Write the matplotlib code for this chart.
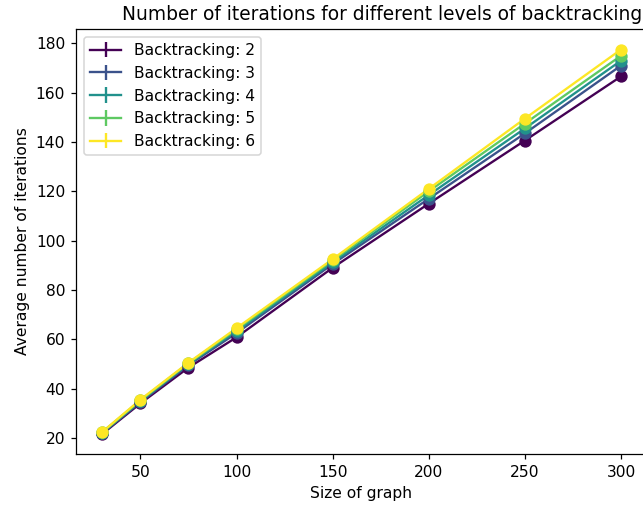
import numpy as np
import matplotlib
matplotlib.use("Agg")
import matplotlib.pyplot as plt


graph_sizes = [30, 50, 75, 100, 150, 200, 250, 300]
levels = [2, 3, 4, 5, 6]

iters_bt2 = [21.5, 34.0, 48.5, 60.8, 89.0, 115.0, 140.6, 166.6]
iters_bt3 = [21.8, 34.5, 49.5, 62.5, 90.5, 117.0, 143.5, 171.0]
iters_bt4 = [22.0, 35.0, 50.0, 63.3, 91.2, 118.5, 145.5, 173.0]
iters_bt5 = [22.2, 35.2, 50.3, 64.0, 92.0, 120.0, 147.5, 175.0]
iters_bt6 = [22.3, 35.5, 50.5, 64.5, 92.5, 121.0, 149.5, 177.5]

err_bt2 = [0.2, 0.2, 0.3, 0.3, 0.4, 0.4, 0.5, 0.5]
err_bt3 = [0.2, 0.2, 0.3, 0.3, 0.4, 0.4, 0.5, 0.5]
err_bt4 = [0.2, 0.2, 0.3, 0.3, 0.4, 0.4, 0.5, 0.5]
err_bt5 = [0.2, 0.2, 0.3, 0.3, 0.4, 0.4, 0.5, 0.5]
err_bt6 = [0.2, 0.2, 0.3, 0.3, 0.4, 0.4, 0.5, 0.5]

DPI = 112


def main():
    all_iters = [iters_bt2, iters_bt3, iters_bt4, iters_bt5, iters_bt6]
    all_errs = [err_bt2, err_bt3, err_bt4, err_bt5, err_bt6]

    fig = plt.figure(figsize=(643 / DPI, 512 / DPI), dpi=DPI)
    ax = fig.add_axes([0.1182, 0.1133, 0.888, 0.8301])

    cmap = plt.get_cmap("viridis")
    colors = [cmap(i / (len(levels) - 1)) for i in range(len(levels))]

    for level, iters, errs, color in zip(levels, all_iters, all_errs, colors):
        ax.errorbar(graph_sizes, iters, yerr=errs, color=color,
                    label=f"Backtracking: {level}")
        ax.scatter(graph_sizes, iters, color=color, s=48, zorder=3)

    ax.set_xlabel("Size of graph")
    ax.set_ylabel("Average number of iterations")
    ax.set_title("Number of iterations for different levels of backtracking",
                 x=0.536)
    ax.legend(loc="upper left")

    fig.savefig("out.png", dpi=DPI)
    plt.close(fig)


if __name__ == "__main__":
    main()
